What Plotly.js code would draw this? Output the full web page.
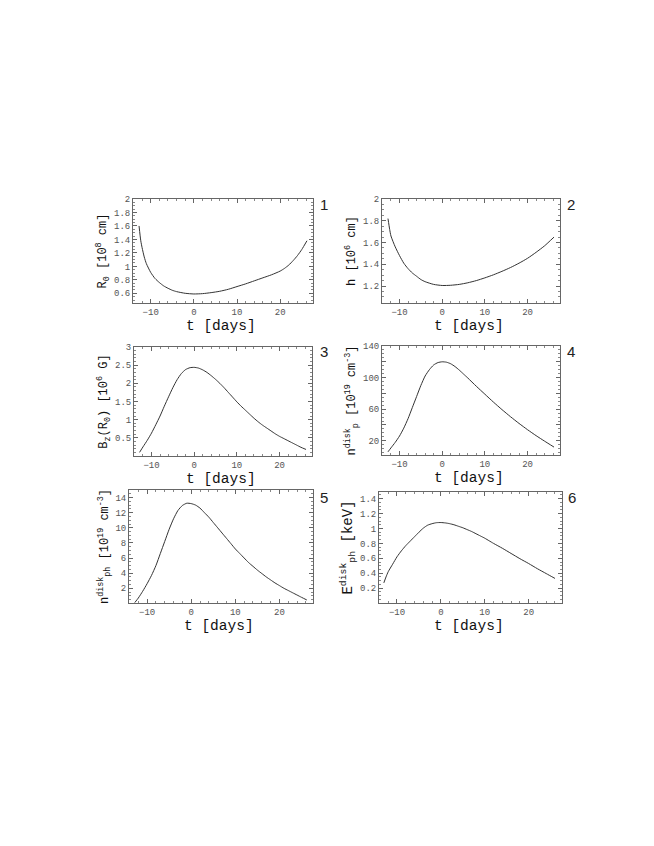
<!DOCTYPE html>
<html>
<head>
<meta charset="utf-8">
<script src="https://cdn.plot.ly/plotly-3.0.1.min.js"></script>
<style>
  html, body { margin: 0; padding: 0; background: #fff; }
  #chart { width: 654px; height: 846px; }
</style>
</head>
<body>
<div id="chart"></div>
<script>
// panel 1: R0 [10^8 cm]
const t1 = [-12.7, -12.3, -12, -11.5, -11, -10, -9, -8, -7, -6, -5, -4, -2, 0, 2, 4, 6, 8, 10, 12, 14, 16, 18, 20, 21, 22, 23, 24, 25, 26.2];
const r0 = [1.60, 1.38, 1.28, 1.14, 1.04, 0.91, 0.82, 0.76, 0.71, 0.675, 0.645, 0.625, 0.60, 0.59, 0.595, 0.61, 0.63, 0.66, 0.70, 0.74, 0.785, 0.83, 0.875, 0.93, 0.97, 1.02, 1.085, 1.16, 1.25, 1.38];

// panel 2: h [10^6 cm]
const t2 = [-12.7, -12.3, -12, -11, -10, -9, -8, -7, -6, -5, -4, -2, 0, 2, 4, 6, 8, 10, 12, 14, 16, 18, 20, 22, 24, 26.2];
const h = [1.82, 1.72, 1.66, 1.56, 1.48, 1.41, 1.36, 1.32, 1.29, 1.26, 1.24, 1.215, 1.205, 1.207, 1.215, 1.23, 1.25, 1.275, 1.303, 1.335, 1.37, 1.41, 1.455, 1.51, 1.57, 1.65];

// panel 3: Bz(R0) [10^6 G]
const t3 = [-12.8, -12, -11, -10, -9, -8, -7, -6, -5, -4, -3, -2, -1, 0, 1, 2, 3, 4, 5, 6, 7, 8, 9, 10, 11, 12, 13, 14, 15, 16, 17, 18, 19, 20, 21, 22, 23, 24, 25, 26.2];
const bz = [0.10, 0.25, 0.43, 0.63, 0.86, 1.10, 1.37, 1.63, 1.88, 2.10, 2.27, 2.38, 2.43, 2.44, 2.42, 2.37, 2.30, 2.21, 2.11, 2.00, 1.88, 1.75, 1.62, 1.49, 1.37, 1.26, 1.15, 1.04, 0.94, 0.85, 0.77, 0.69, 0.61, 0.54, 0.48, 0.42, 0.36, 0.30, 0.24, 0.18];

// panel 4: n_p^disk [10^19 cm^-3]
const t4 = [-12.7, -12, -11, -10, -9, -8, -7, -6, -5, -4, -3, -2, -1, 0, 1, 2, 3, 4, 5, 6, 8, 10, 12, 14, 16, 18, 20, 22, 24, 26.2];
const np = [6, 11, 18, 26, 36, 48, 62, 76, 90, 102, 110, 116, 119, 120, 119.5, 117.5, 114, 109.5, 104.5, 99.5, 89, 79, 69, 59.5, 50.5, 42, 34, 26.5, 19.5, 12];

// panel 5: n_ph^disk [10^19 cm^-3]
const t5 = [-12.8, -12, -11, -10, -9, -8, -7, -6, -5, -4, -3, -2, -1, 0, 1, 2, 3, 4, 5, 6, 7, 8, 9, 10, 11, 12, 13, 14, 15, 16, 17, 18, 19, 20, 21, 22, 23, 24, 25, 26.2];
const nph = [0.1, 0.7, 1.6, 2.6, 3.7, 5.0, 6.6, 8.2, 9.8, 11.2, 12.3, 12.95, 13.25, 13.2, 13.0, 12.6, 12.0, 11.4, 10.7, 10.0, 9.3, 8.6, 7.9, 7.2, 6.6, 6.0, 5.4, 4.9, 4.4, 3.95, 3.5, 3.1, 2.7, 2.35, 2.0, 1.7, 1.4, 1.1, 0.8, 0.45];

// panel 6: E_ph^disk [keV]
const t6 = [-13, -12.5, -12, -11, -10, -9, -8, -7, -6, -5, -4, -3, -2, -1, 0, 1, 2, 3, 4, 5, 6, 7, 8, 9, 10, 11, 12, 14, 16, 18, 20, 22, 24, 26];
const eph = [0.27, 0.35, 0.42, 0.52, 0.62, 0.70, 0.77, 0.83, 0.89, 0.95, 1.005, 1.045, 1.065, 1.078, 1.08, 1.075, 1.065, 1.05, 1.03, 1.01, 0.985, 0.96, 0.93, 0.90, 0.87, 0.835, 0.80, 0.735, 0.665, 0.595, 0.53, 0.46, 0.395, 0.33];

const xTicks = [-10, 0, 10, 20];
const y1Ticks = [0.6, 0.8, 1, 1.2, 1.4, 1.6, 1.8, 2];
const y2Ticks = [1.2, 1.4, 1.6, 1.8, 2];
const y3Ticks = [0.5, 1, 1.5, 2, 2.5, 3];
const y4Ticks = [20, 40, 60, 80, 100, 120, 140];
const y4Text = ['20', ' ', '60', ' ', '100', ' ', '140'];
const y5Ticks = [2, 4, 6, 8, 10, 12, 14];
const y6Ticks = [0.2, 0.4, 0.6, 0.8, 1, 1.2, 1.4];

const W = 654, H = 846;
const MONO = 'Liberation Mono, Courier New, monospace';

// frames in pixels: [left, right, top, bottom]
const frames = [
  [133, 313, 199, 303],
  [382, 560, 199, 303],
  [134, 312, 347, 456],
  [382, 560, 346, 455],
  [129, 313, 490, 603],
  [379, 562, 492, 603]
];
// vertical centre of each "t [days]" label
const xTitleY = [326, 326, 479, 478, 626, 626];

function xAxis(i, anchor) {
  const f = frames[i];
  return {
    domain: [f[0] / W, f[1] / W],
    anchor: anchor,
    range: [-14.1, 27.6],
    tickvals: xTicks,
    ticks: 'inside', ticklen: 4, tickcolor: '#666',
    minor: { dtick: 2, ticks: 'inside', ticklen: 2, tickcolor: '#888' },
    showline: true, linecolor: '#666', linewidth: 1, mirror: 'allticks',
    showgrid: false, zeroline: false,
    tickfont: { family: MONO, size: 9, color: '#555' }
  };
}

function yAxis(i, anchor, range, vals, text, minorStep, title, titleSize) {
  const f = frames[i];
  return {
    domain: [1 - f[3] / H, 1 - f[2] / H],
    anchor: anchor,
    range: range,
    tickvals: vals,
    ticktext: text || vals.map(String),
    ticks: 'inside', ticklen: 4, tickcolor: '#666',
    minor: { dtick: minorStep, ticks: 'inside', ticklen: 2, tickcolor: '#888' },
    showline: true, linecolor: '#666', linewidth: 1, mirror: 'allticks',
    showgrid: false, zeroline: false,
    tickfont: { family: MONO, size: 9, color: '#555' },
    title: { text: title, font: { family: MONO, size: titleSize || 12, color: '#111' }, standoff: 4 }
  };
}

const line = { color: '#333', width: 1, shape: 'spline', smoothing: 0.6 };
const traces = [
  { x: t1, y: r0, xaxis: 'x', yaxis: 'y' },
  { x: t2, y: h, xaxis: 'x2', yaxis: 'y2' },
  { x: t3, y: bz, xaxis: 'x3', yaxis: 'y3' },
  { x: t4, y: np, xaxis: 'x4', yaxis: 'y4' },
  { x: t5, y: nph, xaxis: 'x5', yaxis: 'y5' },
  { x: t6, y: eph, xaxis: 'x6', yaxis: 'y6' }
].map(d => Object.assign({ type: 'scatter', mode: 'lines', line: line, hoverinfo: 'skip' }, d));

const numbers = ['1', '2', '3', '4', '5', '6'];
const numberPos = [[318, 204], [565, 204], [318, 352], [565, 351], [318, 498], [566, 497]];

const annotations = numbers.map((n, i) => ({
  text: n, xref: 'paper', yref: 'paper',
  x: numberPos[i][0] / W, y: 1 - numberPos[i][1] / H,
  xanchor: 'left', yanchor: 'middle', showarrow: false,
  font: { family: 'Liberation Sans, Arial, sans-serif', size: 15, color: '#222' }
}));

// x-axis titles placed under each frame
frames.forEach((f, i) => {
  annotations.push({
    text: 't [days]', xref: 'paper', yref: 'paper',
    x: ((f[0] + f[1]) / 2 - 2) / W, y: 1 - xTitleY[i] / H,
    xanchor: 'center', yanchor: 'middle', showarrow: false,
    font: { family: MONO, size: 14.5, color: '#111' }
  });
});

const layout = {
  width: W, height: H,
  margin: { l: 0, r: 0, t: 0, b: 0 },
  paper_bgcolor: '#fff', plot_bgcolor: '#fff',
  showlegend: false,
  xaxis: xAxis(0, 'y'),
  xaxis2: xAxis(1, 'y2'),
  xaxis3: xAxis(2, 'y3'),
  xaxis4: xAxis(3, 'y4'),
  xaxis5: xAxis(4, 'y5'),
  xaxis6: xAxis(5, 'y6'),
  yaxis: yAxis(0, 'x', [0.456, 2], y1Ticks, null, 0.05, 'R<sub>0</sub> [10<sup>8</sup> cm]'),
  yaxis2: yAxis(1, 'x2', [1.044, 2], y2Ticks, null, 0.05, 'h [10<sup>6</sup> cm]'),
  yaxis3: yAxis(2, 'x3', [0, 3], y3Ticks, null, 0.1, 'B<sub>z</sub>(R<sub>0</sub>) [10<sup>6</sup> G]'),
  yaxis4: yAxis(3, 'x4', [2, 140], y4Ticks, y4Text, 5, 'n<sup>disk</sup><sub>p</sub> [10<sup>19</sup> cm<sup>-3</sup>]'),
  yaxis5: yAxis(4, 'x5', [0.05, 15], y5Ticks, null, 0.5, 'n<sup>disk</sup><sub>ph</sub> [10<sup>19</sup> cm<sup>-3</sup>]'),
  yaxis6: yAxis(5, 'x6', [0, 1.49], y6Ticks, null, 0.05, 'E<sup>disk</sup><sub>ph</sub> [keV]', 14),
  annotations: annotations
};

Plotly.newPlot('chart', traces, layout, { staticPlot: true, displayModeBar: false });
</script>
</body>
</html>
